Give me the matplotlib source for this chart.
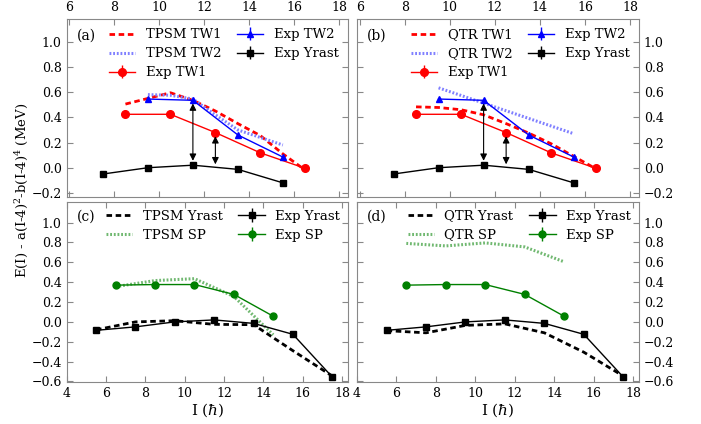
import matplotlib
matplotlib.use('Agg')
import matplotlib.pyplot as plt
import numpy as np

plt.rcParams['font.family'] = 'DejaVu Serif'
plt.rcParams['mathtext.fontset'] = 'dejavuserif'

# ---------------- data ----------------
# experimental
spin_yrast = [5.5, 7.5, 9.5, 11.5, 13.5, 15.5, 17.5]
exp_yrast = [-0.085, -0.05, 0.0, 0.02, -0.015, -0.125, -0.555]
spin_yrast_top = [7.5, 9.5, 11.5, 13.5, 15.5]
exp_yrast_top = [-0.05, 0.0, 0.02, -0.013, -0.12]

spin_tw1 = [8.5, 10.5, 12.5, 14.5, 16.5]
exp_tw1 = [0.424, 0.424, 0.279, 0.118, -0.005]
spin_tw2 = [9.5, 11.5, 13.5, 15.5]
exp_tw2 = [0.545, 0.535, 0.26, 0.085]

spin_sp = [6.5, 8.5, 10.5, 12.5, 14.5]
exp_sp = [0.37, 0.376, 0.376, 0.277, 0.057]

# TPSM
spin_th_tw1 = [8.5, 9.5, 10.5, 11.5, 12.5, 13.5, 14.5, 15.5, 16.5]
tpsm_tw1 = [0.505, 0.55, 0.595, 0.535, 0.45, 0.35, 0.255, 0.11, -0.02]
spin_th_tw2 = [9.5, 10.5, 11.5, 12.5, 13.5, 14.5, 15.5]
tpsm_tw2 = [0.58, 0.575, 0.545, 0.42, 0.30, 0.24, 0.18]
tpsm_yrast = [-0.08, 0.0, 0.012, -0.025, -0.028, -0.29, -0.545]
tpsm_sp = [0.355, 0.416, 0.435, 0.256, -0.13]

# QTR
qtr_tw1 = [0.483, 0.478, 0.46, 0.42, 0.35, 0.275, 0.19, 0.09, -0.01]
spin_qtr_tw2 = [9.5, 15.5]
qtr_tw2 = [0.634, 0.27]
qtr_yrast = [-0.088, -0.11, -0.035, -0.02, -0.11, -0.305, -0.545]
qtr_sp = [0.79, 0.765, 0.795, 0.755, 0.605]

# arrows between yrast and wobbling bands
arrow_spins = [11.5, 12.5]
arrow_low = [0.055, 0.027]
arrow_high = [0.51, 0.25]

fig = plt.figure(figsize=(7.01, 4.24), dpi=100)
ax_a = fig.add_axes([0.0949, 0.5361, 0.4016, 0.419])
ax_b = fig.add_axes([0.5093, 0.5361, 0.4023, 0.419])
ax_c = fig.add_axes([0.0949, 0.0979, 0.4016, 0.4264])
ax_d = fig.add_axes([0.5093, 0.0979, 0.4023, 0.4264])

dash = (0, (2.0, 1.3))
fine_dots = (0, (0.6, 0.6))
ebkw = dict(lw=1, capsize=0, elinewidth=1)


def style(ax, top_row, right_col):
    for s in ax.spines.values():
        s.set_color('#888888')
    ax.tick_params(direction='in', top=True, bottom=True, left=True, right=True,
                   labelsize=9, color='#888888', length=4)
    ax.tick_params(labeltop=top_row, labelbottom=not top_row,
                   labelleft=not right_col, labelright=right_col)
    if top_row:
        ax.set_xlim(5.88, 18.4)
        ax.set_ylim(-0.23, 1.18)
        ax.set_xticks(np.arange(6, 19, 2))
        ax.set_yticks(np.arange(-0.2, 1.01, 0.2))
    else:
        ax.set_xlim(4, 18.3)
        ax.set_ylim(-0.61, 1.21)
        ax.set_xticks(np.arange(4, 19, 2))
        ax.set_yticks(np.arange(-0.6, 1.01, 0.2))
        ax.set_xlabel(r'I ($\hbar$)', fontsize=11, labelpad=1)


def top_panel(ax, label, th_name, th_tw1, th_tw2_x, th_tw2):
    h1, = ax.plot(spin_th_tw1, th_tw1, color='r', ls=dash, lw=2)
    h2, = ax.plot(th_tw2_x, th_tw2, color='#8080ff', ls=fine_dots, lw=2.2)
    h3 = ax.errorbar(spin_tw1, exp_tw1, yerr=0.01, color='r', marker='o', ms=5.5, **ebkw)
    h4 = ax.errorbar(spin_tw2, exp_tw2, yerr=0.01, color='b', marker='^', ms=5, **ebkw)
    h5 = ax.errorbar(spin_yrast_top, exp_yrast_top, yerr=0.01, color='k', marker='s', ms=4, **ebkw)
    for x, lo, hi in zip(arrow_spins, arrow_low, arrow_high):
        ax.annotate('', xy=(x, hi), xytext=(x, lo),
                    arrowprops=dict(arrowstyle='<|-|>', color='k', lw=0.8,
                                    shrinkA=0, shrinkB=0, mutation_scale=10))
    ax.legend([h1, h2, h3, h4, h5],
              [th_name + ' TW1', th_name + ' TW2', 'Exp TW1', 'Exp TW2', 'Exp Yrast'],
              ncol=2, loc='upper right', frameon=False, fontsize=9.5,
              borderaxespad=0.3, columnspacing=1.2, labelspacing=0.45)
    ax.text(0.035, 0.905, label, transform=ax.transAxes, fontsize=10, va='center')


def bottom_panel(ax, label, th_name, th_yrast, th_sp):
    h1, = ax.plot(spin_yrast, th_yrast, color='k', ls=dash, lw=2)
    h2, = ax.plot(spin_sp, th_sp, color='#70b870', ls=fine_dots, lw=2.2)
    h3 = ax.errorbar(spin_yrast, exp_yrast, yerr=0.01, color='k', marker='s', ms=5, **ebkw)
    h4 = ax.errorbar(spin_sp, exp_sp, yerr=0.01, color='g', marker='o', ms=5, **ebkw)
    ax.legend([h1, h2, h3, h4],
              [th_name + ' Yrast', th_name + ' SP', 'Exp Yrast', 'Exp SP'],
              ncol=2, loc='upper right', frameon=False, fontsize=9.5,
              borderaxespad=0.2, columnspacing=1.2, labelspacing=0.45)
    ax.text(0.035, 0.915, label, transform=ax.transAxes, fontsize=10, va='center')


top_panel(ax_a, '(a)', 'TPSM', tpsm_tw1, spin_th_tw2, tpsm_tw2)
top_panel(ax_b, '(b)', 'QTR', qtr_tw1, spin_qtr_tw2, qtr_tw2)
bottom_panel(ax_c, '(c)', 'TPSM', tpsm_yrast, tpsm_sp)
bottom_panel(ax_d, '(d)', 'QTR', qtr_yrast, qtr_sp)

style(ax_a, True, False)
style(ax_b, True, True)
style(ax_c, False, False)
style(ax_d, False, True)

fig.text(0.031, 0.552, r'E(I) - a(I-4)$^2$-b(I-4)$^4$ (MeV)', rotation=90,
         fontsize=9.5, va='center', ha='center')

plt.savefig('out.png', dpi=100)
